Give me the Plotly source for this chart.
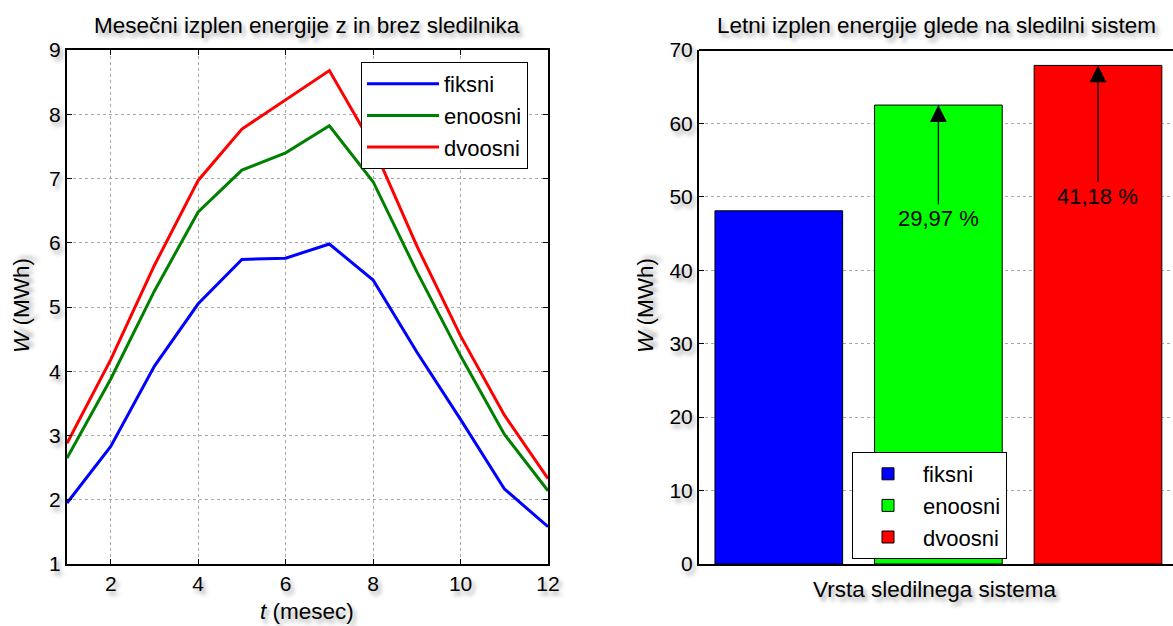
import plotly.graph_objects as go

months = list(range(1, 13))
fiksni = [1.95, 2.83, 4.08, 5.05, 5.74, 5.76, 5.98, 5.42, 4.30, 3.25, 2.17, 1.58]
enoosni = [2.65, 3.88, 5.25, 6.48, 7.13, 7.40, 7.82, 6.95, 5.55, 4.24, 3.02, 2.14]
dvoosni = [2.88, 4.18, 5.65, 6.97, 7.77, 8.22, 8.68, 7.50, 5.95, 4.55, 3.32, 2.33]

systems = ["fiksni", "enoosni", "dvoosni"]
annual = [48.1, 62.5, 67.9]
increase_labels = ["", "29,97 %", "41,18 %"]
label_y = [None, 47.1, 50.1]
line_colors = ["#0000ff", "#008000", "#ff0000"]
bar_colors = ["#0000ff", "#00ff00", "#ff0000"]

W, H = 1173, 626
FONT = "Liberation Sans, Arial, sans-serif"
SHADOW = "3px 4px 4px rgba(0,0,0,0.35)"

def px_x(p):
    return p / W

def px_y(p):
    return 1 - p / H

fig = go.Figure()

for name, vals, col in zip(systems, [fiksni, enoosni, dvoosni], line_colors):
    fig.add_trace(go.Scatter(x=months, y=vals, mode="lines", name=name,
                             line=dict(color=col, width=3),
                             xaxis="x", yaxis="y", legend="legend"))

for i, (name, val, col) in enumerate(zip(systems, annual, bar_colors)):
    fig.add_trace(go.Bar(x=[i + 1], y=[val], name=name, width=0.8,
                         marker=dict(color=col, line=dict(color="black", width=1)),
                         xaxis="x2", yaxis="y2", legend="legend2"))

tick_font = dict(family=FONT, size=21, color="black", shadow=SHADOW)
ydom = [px_y(564), px_y(50)]
grid = dict(showgrid=True, gridcolor="#a8a8a8", griddash="dot", gridwidth=1)
axline = dict(showline=True, linecolor="black", linewidth=2, zeroline=False)

fig.update_layout(
    width=W, height=H,
    margin=dict(l=0, r=0, t=0, b=0, autoexpand=False),
    paper_bgcolor="white", plot_bgcolor="white",
    barmode="overlay",
    font=dict(family=FONT, color="black"),
    xaxis=dict(domain=[px_x(67), px_x(548)], range=[1, 12], tickvals=[2, 4, 6, 8, 10, 12],
               mirror="allticks", ticks="inside", ticklen=5, tickcolor="black",
               tickfont=tick_font, anchor="y", **grid, **axline),
    yaxis=dict(domain=ydom, range=[1, 9], dtick=1,
               mirror="allticks", ticks="inside", ticklen=5, tickcolor="black",
               tickfont=tick_font, anchor="x", **grid, **axline),
    xaxis2=dict(domain=[px_x(699), 1.0], range=[0.5, 3.47], showticklabels=False,
                showgrid=False, ticks="", anchor="y2", **axline),
    yaxis2=dict(domain=ydom, range=[0, 70], dtick=10,
                ticks="inside", ticklen=5, tickcolor="black", tickfont=tick_font,
                anchor="x2", **grid, **axline),
    legend=dict(x=px_x(361), y=px_y(62), xanchor="left", yanchor="top",
                bgcolor="white", bordercolor="black", borderwidth=1,
                font=dict(family=FONT, size=22, color="black"),
                itemwidth=72, tracegroupgap=0),
    legend2=dict(x=px_x(852), y=px_y(452), xanchor="left", yanchor="top",
                 bgcolor="white", bordercolor="black", borderwidth=1,
                 font=dict(family=FONT, size=22, color="black"),
                 itemwidth=60, tracegroupgap=0),
    showlegend=True,
)

# top border line for bar chart (right side is clipped in the reference)
fig.add_shape(type="line", xref="paper", yref="paper",
              x0=px_x(699), x1=1.0, y0=px_y(50), y1=px_y(50),
              line=dict(color="black", width=2))

title_font = dict(family=FONT, size=22.5, color="black", shadow=SHADOW)
anns = [
    dict(text="Mesečni izplen energije z in brez sledilnika", x=px_x(307), y=px_y(26)),
    dict(text="Letni izplen energije glede na sledilni sistem", x=px_x(936), y=px_y(26)),
    dict(text="<i>t</i> (mesec)", x=px_x(307), y=px_y(611)),
    dict(text="Vrsta sledilnega sistema", x=px_x(935), y=px_y(589)),
    dict(text="<i>W</i> (MWh)", x=px_x(21), y=px_y(306), textangle=-90),
    dict(text="<i>W</i> (MWh)", x=px_x(645), y=px_y(306), textangle=-90),
]
for a in anns:
    fig.add_annotation(xref="paper", yref="paper", showarrow=False,
                       xanchor="center", yanchor="middle", font=title_font, **a)

for i in range(1, 3):
    fig.add_annotation(x=i + 1, y=annual[i], xref="x2", yref="y2",
                       ax=i + 1, ay=label_y[i], axref="x2", ayref="y2",
                       text=increase_labels[i], showarrow=True,
                       arrowhead=2, arrowsize=2.6, arrowwidth=1.3, arrowcolor="black",
                       font=dict(family=FONT, size=22, color="black"),
                       standoff=0)

fig.write_html("out.html", config={"displayModeBar": False},
               post_script="document.body.style.margin='0px';document.body.style.overflow='hidden';")
